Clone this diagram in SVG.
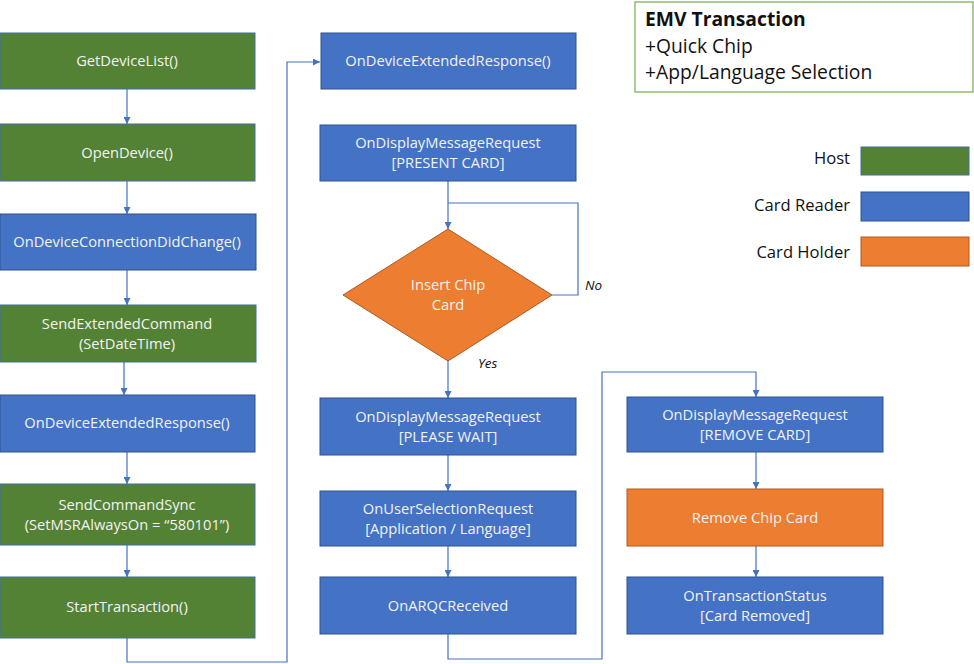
<svg xmlns="http://www.w3.org/2000/svg" width="974" height="664" viewBox="0 0 974 664">
<style>
.h{fill:#548235;stroke:#41719C;stroke-width:1}
.r{fill:#4472C4;stroke:#2F528F;stroke-width:1}
.o{fill:#ED7D31;stroke:#AE5A21;stroke-width:1}
.t{font-family:"Open Sans","Liberation Sans",sans-serif;font-size:14.7px;fill:#F2F2F2;text-anchor:middle}
.lg{font-family:"Open Sans","Liberation Sans",sans-serif;font-size:16.6px;fill:#111;text-anchor:end}
.ti{font-family:"Open Sans","Liberation Sans",sans-serif;font-size:19.3px;fill:#111}
.c{fill:none;stroke:#4472C4;stroke-width:1.2}
.lbl{font-family:"Open Sans","Liberation Sans",sans-serif;font-size:13.5px;font-style:italic;fill:#111}
</style>
<defs>
<marker id="a" viewBox="0 0 10 10" refX="10" refY="5" markerWidth="7" markerHeight="7" markerUnits="userSpaceOnUse" orient="auto">
<path d="M0,0 L10,5 L0,10 z" fill="#4472C4"/>
</marker>
</defs>
<rect width="974" height="664" fill="#fff"/>

<g id="connectors">
<path class="c" d="M127,89 V124" marker-end="url(#a)"/>
<path class="c" d="M127,181 V214" marker-end="url(#a)"/>
<path class="c" d="M127,270 V305" marker-end="url(#a)"/>
<path class="c" d="M124,362 V395" marker-end="url(#a)"/>
<path class="c" d="M127,452 V484" marker-end="url(#a)"/>
<path class="c" d="M127,545 V577" marker-end="url(#a)"/>
<path class="c" d="M127,638 V662 H287 V62 H320" marker-end="url(#a)"/>
<path class="c" d="M448,181 V229" marker-end="url(#a)"/>
<path class="c" d="M552,295 H578 V203 H448"/>
<path class="c" d="M448,361 V398" marker-end="url(#a)"/>
<path class="c" d="M448,455 V491" marker-end="url(#a)"/>
<path class="c" d="M448,546 V577" marker-end="url(#a)"/>
<path class="c" d="M448,634 V659 H602 V372 H756 V397" marker-end="url(#a)"/>
<path class="c" d="M756,452 V489" marker-end="url(#a)"/>
<path class="c" d="M756,546 V577" marker-end="url(#a)"/>
<text class="lbl" x="585" y="290">No</text>
<text class="lbl" x="478" y="368">Yes</text>
</g>

<g id="n1"><rect class="h" x="0" y="33" width="255" height="56"/><text class="t" x="127" y="66">GetDeviceList()</text></g>
<g id="n2"><rect class="h" x="0" y="124" width="255" height="57"/><text class="t" x="127" y="158">OpenDevice()</text></g>
<g id="n3"><rect class="r" x="0" y="214" width="256" height="56"/><text class="t" x="127" y="247">OnDeviceConnectionDidChange()</text></g>
<g id="n4"><rect class="h" x="0" y="305" width="256" height="57"/><text class="t" x="127" y="329">SendExtendedCommand</text><text class="t" x="127" y="349">(SetDateTime)</text></g>
<g id="n5"><rect class="r" x="0" y="395" width="255" height="57"/><text class="t" x="127" y="428">OnDeviceExtendedResponse()</text></g>
<g id="n6"><rect class="h" x="0" y="484" width="255" height="61"/><text class="t" x="127" y="510">SendCommandSync</text><text class="t" x="127" y="530">(SetMSRAlwaysOn = “580101”)</text></g>
<g id="n7"><rect class="h" x="0" y="577" width="255" height="61"/><text class="t" x="127" y="612">StartTransaction()</text></g>

<g id="m1"><rect class="r" x="321" y="33" width="255" height="56"/><text class="t" x="448" y="66">OnDeviceExtendedResponse()</text></g>
<g id="m2"><rect class="r" x="320" y="125" width="256" height="56"/><text class="t" x="448" y="148">OnDisplayMessageRequest</text><text class="t" x="448" y="168">[PRESENT CARD]</text></g>
<g id="m3"><polygon class="o" points="448,229 552,295 448,361 343,295"/><text class="t" x="448" y="290">Insert Chip</text><text class="t" x="448" y="310">Card</text></g>
<g id="m4"><rect class="r" x="320" y="398" width="256" height="57"/><text class="t" x="448" y="422">OnDisplayMessageRequest</text><text class="t" x="448" y="442">[PLEASE WAIT]</text></g>
<g id="m5"><rect class="r" x="320" y="491" width="256" height="55"/><text class="t" x="448" y="514">OnUserSelectionRequest</text><text class="t" x="448" y="534">[Application / Language]</text></g>
<g id="m6"><rect class="r" x="320" y="577" width="256" height="57"/><text class="t" x="448" y="611">OnARQCReceived</text></g>

<g id="r1"><rect class="r" x="627" y="397" width="256" height="55"/><text class="t" x="755" y="420">OnDisplayMessageRequest</text><text class="t" x="755" y="440">[REMOVE CARD]</text></g>
<g id="r2"><rect class="o" x="627" y="489" width="256" height="57"/><text class="t" x="755" y="523">Remove Chip Card</text></g>
<g id="r3"><rect class="r" x="627" y="577" width="256" height="57"/><text class="t" x="755" y="601">OnTransactionStatus</text><text class="t" x="755" y="621">[Card Removed]</text></g>

<g id="title"><rect x="635" y="2" width="338" height="90" fill="#fff" stroke="#70AD47" stroke-width="1.2"/>
<text class="ti" x="645" y="26" font-weight="bold" font-size="18px">EMV Transaction</text>
<text class="ti" x="645" y="53">+Quick Chip</text>
<text class="ti" x="645" y="79">+App/Language Selection</text></g>

<g id="legend">
<text class="lg" x="850" y="164">Host</text><rect class="h" x="861" y="147" width="108" height="28"/>
<text class="lg" x="850" y="211">Card Reader</text><rect class="r" x="861" y="192" width="108" height="29"/>
<text class="lg" x="850" y="258">Card Holder</text><rect class="o" x="861" y="237" width="108" height="29"/>
</g>
</svg>
